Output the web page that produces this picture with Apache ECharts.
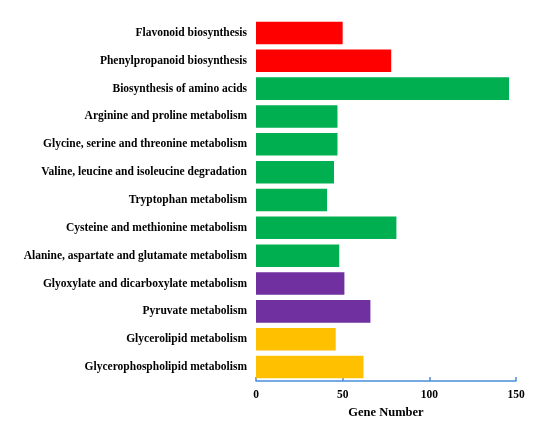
<!DOCTYPE html>
<html>
<head>
<meta charset="utf-8">
<script src="https://cdn.jsdelivr.net/npm/echarts@6/dist/echarts.min.js"></script>
<style>
  html, body { margin: 0; padding: 0; background: #fff; }
  #main { width: 550px; height: 422px; }
</style>
</head>
<body>
<div id="main"></div>
<script>
  // pathways, top to bottom
  var categories = [
    'Flavonoid biosynthesis',
    'Phenylpropanoid biosynthesis',
    'Biosynthesis of amino acids',
    'Arginine and proline metabolism',
    'Glycine, serine and threonine metabolism',
    'Valine, leucine and isoleucine degradation',
    'Tryptophan metabolism',
    'Cysteine and methionine metabolism',
    'Alanine, aspartate and glutamate metabolism',
    'Glyoxylate and dicarboxylate metabolism',
    'Pyruvate metabolism',
    'Glycerolipid metabolism',
    'Glycerophospholipid metabolism'
  ];
  var geneNumbers = [50, 78, 146, 47, 47, 45, 41, 81, 48, 51, 66, 46, 62];
  var groups = ['secondary', 'secondary', 'amino', 'amino', 'amino', 'amino', 'amino',
                'amino', 'amino', 'carbohydrate', 'carbohydrate', 'lipid', 'lipid'];
  var xTicks = [0, 50, 100, 150];

  var groupColors = {
    secondary: '#FF0000',
    amino: '#00B050',
    carbohydrate: '#7030A0',
    lipid: '#FFC000'
  };
  var serif = '"Palatino Linotype", "Book Antiqua", Palatino, "Liberation Serif", serif';
  var axisBlue = '#4A8FDA';

  var myChart = echarts.init(document.getElementById('main'));

  var option = {
    animation: false,
    grid: {
      left: 256,
      right: 34,
      top: 19,
      bottom: 41,
      outerBoundsMode: 'none'
    },
    xAxis: {
      type: 'value',
      min: xTicks[0],
      max: xTicks[xTicks.length - 1],
      interval: xTicks[1] - xTicks[0],
      name: 'Gene Number',
      nameLocation: 'middle',
      nameGap: 25,
      nameTextStyle: { fontFamily: serif, fontWeight: 'bold', fontSize: 12.5, color: '#000' },
      axisLine: { show: true, lineStyle: { color: axisBlue, width: 1.5 } },
      axisTick: { show: true, inside: true, length: 4, lineStyle: { color: axisBlue, width: 1.5 } },
      axisLabel: { fontFamily: serif, fontWeight: 'bold', fontSize: 11.5, color: '#000', margin: 8 },
      splitLine: { show: false }
    },
    yAxis: {
      type: 'category',
      inverse: true,
      data: categories,
      axisLine: { show: false },
      axisTick: { show: false },
      axisLabel: { fontFamily: serif, fontWeight: 'bold', fontSize: 11.5, color: '#000', margin: 9 }
    },
    series: [
      {
        type: 'bar',
        barCategoryGap: '19%',
        data: geneNumbers.map(function (v, i) {
          return { value: v, itemStyle: { color: groupColors[groups[i]] } };
        })
      }
    ]
  };

  myChart.setOption(option);
</script>
</body>
</html>
